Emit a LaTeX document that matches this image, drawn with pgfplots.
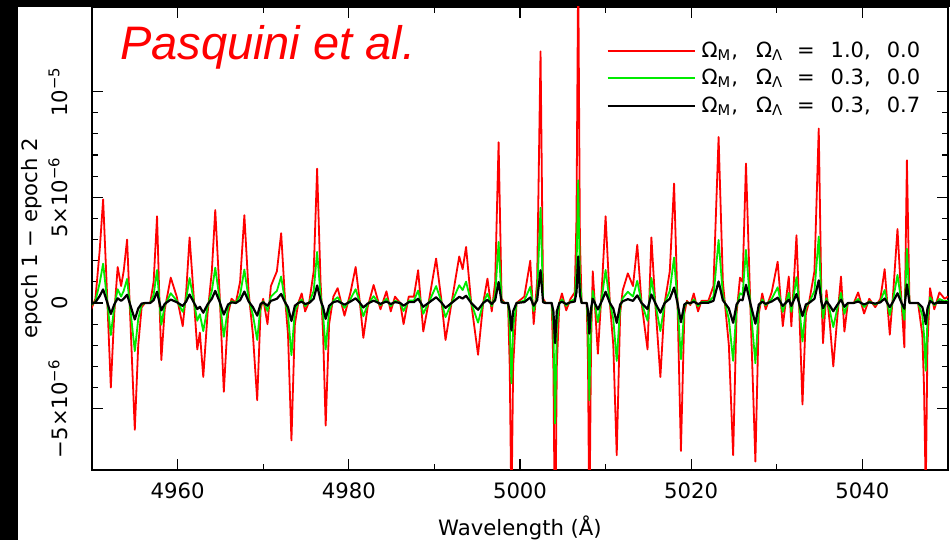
\documentclass[border=0pt]{standalone}
\usepackage{fontspec}
\setmainfont{DejaVu Sans}
\newfontfamily\pasq{Liberation Sans}
\usepackage{pgfplots}
\pgfplotsset{compat=1.18}
\usepackage{pgfplotstable}
\pgfplotstableread{
x r g b
4949.9 -0.3 -0.11 -0.04
4950.4 0.2 0.08 0.03
4950.9 2.5 0.95 0.33
4951.3 4.9 1.86 0.64
4951.7 1.0 0.38 0.13
4952.2 -4.0 -1.52 -0.52
4952.6 -0.5 -0.19 -0.07
4953.0 1.7 0.65 0.22
4953.4 0.8 0.30 0.10
4953.7 1.5 0.57 0.20
4954.1 3.0 1.14 0.39
4954.5 -1.0 -0.38 -0.13
4955.0 -6.0 -2.28 -0.78
4955.4 -2.0 -0.76 -0.26
4955.8 -0.2 -0.08 -0.03
4956.2 0.0 0.0 0.0
4956.8 0.0 0.0 0.0
4957.2 1.0 0.38 0.13
4957.6 4.1 1.56 0.53
4957.85 0.5 0.19 0.07
4958.1 -2.7 -1.03 -0.35
4958.5 -0.3 -0.11 -0.04
4959.2 1.2 0.46 0.16
4959.9 0.3 0.11 0.04
4960.6 -1.1 -0.42 -0.14
4961.0 0.5 0.19 0.07
4961.4 3.1 1.18 0.40
4961.8 0.8 0.30 0.10
4962.3 -2.2 -0.84 -0.29
4962.6 -1.4 -0.53 -0.18
4963.0 -3.5 -1.33 -0.46
4963.5 -0.5 -0.19 -0.07
4964.0 1.5 0.57 0.20
4964.4 4.4 1.67 0.57
4964.9 0.5 0.19 0.07
4965.4 -4.2 -1.60 -0.55
4965.9 -0.5 -0.19 -0.07
4966.3 0.2 0.08 0.03
4966.8 0.0 0.0 0.0
4967.3 1.0 0.38 0.13
4967.8 4.15 1.58 0.54
4968.3 0.5 0.19 0.07
4968.8 -1.5 -0.57 -0.20
4969.3 -4.6 -1.75 -0.60
4969.7 -0.3 -0.11 -0.04
4970.0 0.2 0.08 0.03
4970.5 -1.0 -0.38 -0.13
4970.9 0.8 0.30 0.10
4971.2 1.1 0.42 0.14
4971.6 1.5 0.57 0.20
4972.1 3.3 1.25 0.43
4972.5 0.5 0.19 0.07
4972.9 -1.5 -0.57 -0.20
4973.3 -6.5 -2.47 -0.85
4973.7 -1.0 -0.38 -0.13
4974.1 0.0 0.0 0.0
4974.5 0.45 0.17 0.06
4974.9 -0.4 -0.15 -0.05
4975.4 0.1 0.04 0.01
4975.9 1.5 0.57 0.20
4976.3 6.35 2.41 0.83
4976.7 1.0 0.38 0.13
4977.0 -1.5 -0.57 -0.20
4977.3 -5.8 -2.20 -0.75
4977.7 -1.0 -0.38 -0.13
4978.2 0.3 0.11 0.04
4978.7 0.7 0.27 0.09
4979.5 -0.6 -0.23 -0.08
4980.2 0.5 0.19 0.07
4980.8 1.7 0.65 0.22
4981.3 0.0 0.0 0.0
4981.7 -1.65 -0.63 -0.21
4982.2 -0.2 -0.08 -0.03
4982.9 0.85 0.32 0.11
4983.7 -0.3 -0.11 -0.04
4984.4 0.55 0.21 0.07
4984.9 -0.4 -0.15 -0.05
4985.4 0.3 0.11 0.04
4986.0 0.0 0.0 0.0
4986.4 -1.0 -0.38 -0.13
4987.0 0.3 0.11 0.04
4987.6 0.3 0.11 0.04
4988.1 1.55 0.59 0.20
4988.7 -1.35 -0.51 -0.18
4989.4 0.2 0.08 0.03
4990.2 2.1 0.80 0.27
4990.8 0.2 0.08 0.03
4991.3 -1.75 -0.67 -0.23
4992.0 0.0 0.0 0.0
4992.9 2.2 0.84 0.29
4993.3 1.6 0.61 0.21
4993.7 2.65 1.01 0.34
4994.3 0.0 0.0 0.0
4995.1 -2.45 -0.93 -0.32
4995.7 0.0 0.0 0.0
4996.2 1.15 0.44 0.15
4996.7 -0.4 -0.15 -0.05
4997.1 1.0 0.38 0.13
4997.5 7.6 2.89 0.99
4997.85 0.2 0.08 0.03
4998.2 0.0 0.0 0.0
4998.6 0.0 0.0 0.0
4998.8 -3.0 -1.14 -0.39
4999.0 -10 -3.8 -1.3
4999.2 -3.0 -1.14 -0.39
4999.6 0.0 0.0 0.0
5000.5 0.3 0.11 0.04
5001.2 2.0 0.76 0.26
5001.6 -1.0 -0.38 -0.13
5002.0 1.0 0.38 0.13
5002.4 11.9 4.5 1.55
5002.7 0.2 0.08 0.03
5003.0 0.0 0.0 0.0
5003.7 0.0 0.0 0.0
5003.9 -3.0 -1.14 -0.39
5004.1 -12 -5.7 -1.9
5004.3 -3.0 -1.14 -0.39
5004.6 0.0 0.0 0.0
5004.9 0.45 0.17 0.06
5005.4 -0.35 -0.13 -0.05
5005.9 0.2 0.08 0.03
5006.4 0.5 0.19 0.07
5006.6 4.0 1.52 0.52
5006.8 16 5.8 2.2
5007.0 3.0 1.14 0.39
5007.2 0.0 0.0 0.0
5007.8 0.0 0.0 0.0
5007.95 -3.0 -1.14 -0.39
5008.1 -11 -4.6 -1.45
5008.3 -2.0 -0.76 -0.26
5008.5 1.5 0.57 0.20
5009.1 -2.4 -0.91 -0.31
5009.6 1.0 0.38 0.13
5010.0 4.1 1.56 0.53
5010.5 0.0 0.0 0.0
5010.9 -2.0 -0.76 -0.26
5011.3 -7.2 -2.74 -0.94
5011.7 -0.5 -0.19 -0.07
5012.0 0.6 0.23 0.08
5012.6 1.4 0.53 0.18
5013.2 0.8 0.30 0.10
5013.7 2.75 1.05 0.36
5014.2 0.0 0.0 0.0
5014.9 -2.2 -0.84 -0.29
5015.35 3.1 1.18 0.40
5015.8 0.0 0.0 0.0
5016.4 -3.5 -1.33 -0.46
5016.9 0.0 0.0 0.0
5017.5 1.5 0.57 0.20
5018.0 5.65 2.15 0.73
5018.4 0.0 0.0 0.0
5018.8 -7.0 -2.66 -0.91
5019.2 -0.5 -0.19 -0.07
5019.5 0.1 0.04 0.01
5019.9 -0.1 -0.04 -0.01
5020.3 0.45 0.17 0.06
5020.8 -0.4 -0.15 -0.05
5021.2 0.1 0.04 0.01
5022.0 0.1 0.04 0.01
5022.6 0.8 0.30 0.10
5023.2 7.85 2.98 1.02
5023.7 1.0 0.38 0.13
5024.4 -2.0 -0.76 -0.26
5024.9 -7.2 -2.74 -0.94
5025.3 -0.5 -0.19 -0.07
5025.7 1.2 0.46 0.16
5026.0 1.0 0.38 0.13
5026.4 6.6 2.51 0.86
5026.9 0.0 0.0 0.0
5027.5 -7.5 -2.85 -0.98
5027.9 -0.5 -0.19 -0.07
5028.3 0.45 0.17 0.06
5028.7 -0.3 -0.11 -0.04
5029.4 0.5 0.19 0.07
5030.1 1.95 0.74 0.25
5030.7 -1.1 -0.42 -0.14
5031.4 1.25 0.48 0.16
5031.7 -1.1 -0.42 -0.14
5032.3 3.2 1.22 0.42
5032.6 0.0 0.0 0.0
5033.0 -4.8 -1.82 -0.62
5033.4 -0.5 -0.19 -0.07
5033.8 0.1 0.04 0.01
5034.4 1.5 0.57 0.20
5034.9 8.25 3.14 1.07
5035.2 0.5 0.19 0.07
5035.4 -1.9 -0.72 -0.25
5035.8 0.6 0.23 0.08
5036.2 -1.0 -0.38 -0.13
5036.6 -3.0 -1.14 -0.39
5037.0 -1.0 -0.38 -0.13
5037.5 1.25 0.48 0.16
5037.9 -1.35 -0.51 -0.18
5038.3 0.0 0.0 0.0
5039.0 0.0 0.0 0.0
5039.5 0.5 0.19 0.07
5040.2 -0.5 -0.19 -0.07
5040.8 0.2 0.08 0.03
5041.5 -0.2 -0.08 -0.03
5042.1 0.2 0.08 0.03
5042.6 1.6 0.61 0.21
5043.2 -1.5 -0.57 -0.20
5043.6 0.5 0.19 0.07
5044.1 3.5 1.33 0.46
5044.5 0.5 0.19 0.07
5044.9 -2.1 -0.80 -0.27
5045.2 6.75 2.57 0.88
5045.5 0.0 0.0 0.0
5046.5 0.0 0.0 0.0
5047.0 -1.5 -0.57 -0.20
5047.2 -4.0 -1.52 -0.52
5047.4 -9 -3.2 -1.0
5047.6 -2.0 -0.76 -0.26
5047.9 0.7 0.27 0.09
5048.4 -0.3 -0.11 -0.04
5049.0 0.5 0.19 0.07
5049.6 0.2 0.08 0.03
5050.0 0.3 0.11 0.04
}\spec

\definecolor{pred}{RGB}{255,0,0}
\definecolor{pgreen}{RGB}{0,235,0}

\begin{document}
\begin{tikzpicture}
\fill[black] (-46pt,-35pt) rectangle (-37pt,235pt);
\fill[black] (-46pt,231.5pt) rectangle (429pt,235pt);
\path[use as bounding box] (-46pt,-35pt) rectangle (429pt,235pt);
\begin{axis}[
  at={(0,0)}, anchor=south west,
  scale only axis, width=428pt, height=231.5pt,
  xmin=4950, xmax=5050, ymin=-7.9, ymax=14,
  xtick={4960,4980,5000,5020,5040},
  minor x tick num=1,
  ytick={-5,0,5,10},
  yticklabels={−5×10\textsuperscript{−6},0,5×10\textsuperscript{−6},10\textsuperscript{−5}},
  minor y tick num=4,
  major tick length=5.5pt, minor tick length=3pt,
  every tick/.style={black, line width=0.6pt},
  axis line style={line width=0.8pt},
  /pgf/number format/assume math mode=true,
  xticklabel style={/pgf/number format/1000 sep={}, anchor=north, inner sep=0pt, font=\fontsize{10.6}{12}\selectfont},
  xticklabel shift=6pt,
  yticklabel style={rotate=90, anchor=south, inner sep=0pt, font=\fontsize{10.6}{12}\selectfont},
  yticklabel shift=12pt,
  xlabel={Wavelength (Å)},
  ylabel={epoch 1 − epoch 2},
  xlabel style={at={(axis description cs:0.5,-0.1425)}, anchor=base, font=\fontsize{10.6}{12}\selectfont},
  ylabel style={at={(axis description cs:-0.0631,0.5)}, anchor=base, font=\fontsize{10.6}{12}\selectfont},
  legend style={at={(axis description cs:0.6005,0.935)}, anchor=north west, draw=none, fill=none, inner sep=0pt, row sep=0.5pt, font=\fontsize{10.5}{12}\selectfont, nodes={inner ysep=2pt, inner xsep=3pt}},
  legend cell align=left,
  legend image code/.code={\draw[#1] (0pt,0pt) -- (43.5pt,0pt);},
]
\addplot[pred, line width=0.9pt, line join=round] table[x=x, y=r] {\spec};
\addlegendentry{Ω\textsubscript{M},\hspace{9pt}Ω\textsubscript{Λ}\hspace{7pt}=\hspace{8pt}1.0,\hspace{8pt}0.0}
\addplot[pgreen, line width=0.9pt, line join=round] table[x=x, y=g] {\spec};
\addlegendentry{Ω\textsubscript{M},\hspace{9pt}Ω\textsubscript{Λ}\hspace{7pt}=\hspace{8pt}0.3,\hspace{8pt}0.0}
\addplot[black, line width=1.1pt, line join=round] table[x=x, y=b] {\spec};
\addlegendentry{Ω\textsubscript{M},\hspace{9pt}Ω\textsubscript{Λ}\hspace{7pt}=\hspace{8pt}0.3,\hspace{8pt}0.7}
\end{axis}
\node[anchor=base west, text=red, font=\pasq\itshape\fontsize{23.5}{26}\selectfont] at (10.5pt,205pt) {Pasquini et al.};
\end{tikzpicture}
\end{document}
